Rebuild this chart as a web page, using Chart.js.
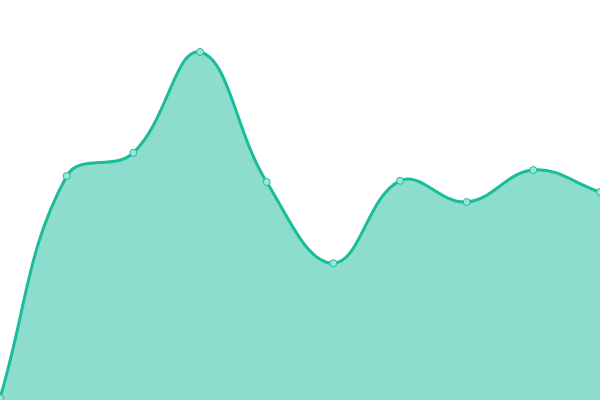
<!DOCTYPE html>
<html>
<head>
<meta charset="utf-8">
<script src="https://cdn.jsdelivr.net/npm/chart.js@4/dist/chart.umd.min.js"></script>
<style>
  html, body { margin: 0; padding: 0; background: #fff; }
  #wrap { width: 600px; height: 400px; }
</style>
</head>
<body>
<div id="wrap"><canvas id="areaChart"></canvas></div>
<script>
const labels = ["1", "2", "3", "4", "5", "6", "7", "8", "9", "10"];
const values = [0.5, 56, 61.8, 87, 54.5, 34.2, 54.8, 49.5, 57.5, 52];

const ctx = document.getElementById("areaChart").getContext("2d");

new Chart(ctx, {
  type: 'line',
  data: {
    labels,
    datasets: [{
      data: values,
      borderColor: "#1abc9c",
      backgroundColor: "rgba(26,188,156,0.5)",
      borderWidth: 3,
      fill: 'origin',
      tension: 0.4,
      pointRadius: 3.5,
      pointBackgroundColor: "#9de6d7",
      pointBorderColor: "#1abc9c",
      pointBorderWidth: 1
    }]
  },
  options: {
    responsive: true,
    maintainAspectRatio: false,
    animation: false,
    layout: { padding: 0, autoPadding: false },
    plugins: {
      legend: { display: false },
      tooltip: { enabled: false }
    },
    scales: {
      x: { display: false, offset: false },
      y: { display: false, min: 0, max: 100 }
    }
  }
});
</script>
</body>
</html>
